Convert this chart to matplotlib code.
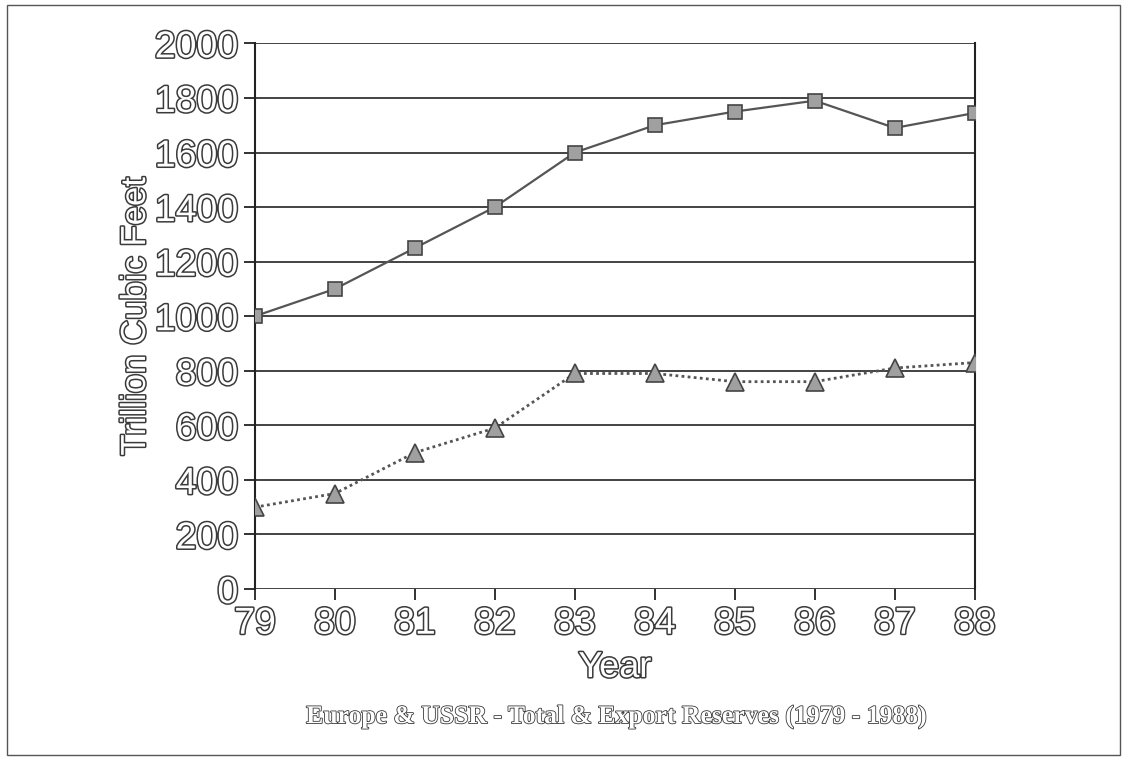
import matplotlib
matplotlib.use("Agg")
import matplotlib.pyplot as plt
import matplotlib.patheffects as pe
from matplotlib.patches import Rectangle

years = ["79", "80", "81", "82", "83", "84", "85", "86", "87", "88"]
total_reserves = [1000, 1100, 1250, 1400, 1600, 1700, 1750, 1790, 1690, 1745]
export_reserves = [300, 350, 500, 590, 790, 790, 760, 760, 810, 830]
y_ticks = [0, 200, 400, 600, 800, 1000, 1200, 1400, 1600, 1800, 2000]

# hollow, outlined lettering like the scanned original
outline = [pe.Stroke(linewidth=2.2, foreground="#3a3a3a"), pe.Normal()]
sans = "Liberation Sans"


def main():
    fig = plt.figure(figsize=(11.23, 7.61), dpi=100)
    ax = fig.add_axes([0.227, 0.226, 0.641, 0.717])

    x = list(range(len(years)))
    ax.plot(x, total_reserves, color="#555555", lw=1.6, marker="s", ms=10,
            mfc="#a0a0a0", mec="#444444", mew=1.2, zorder=3)
    ax.plot(x, export_reserves, color="#555555", lw=2.0, ls=(0, (1, 1.2)),
            marker="^", ms=13, mfc="#a0a0a0", mec="#444444", mew=1.2, zorder=3)

    ax.set_xlim(0, len(years) - 1)
    ax.set_ylim(0, 2000)
    ax.set_xticks(x)
    ax.set_xticklabels(years)
    ax.set_yticks(y_ticks)
    ax.grid(axis="y", color="#222222", lw=1.2)
    for s in ["top", "bottom"]:
        ax.spines[s].set_visible(False)
    ax.spines["left"].set_linewidth(1.5)
    ax.spines["right"].set_linewidth(1.5)
    ax.spines["left"].set_color("#222222")
    ax.spines["right"].set_color("#222222")
    ax.tick_params(axis="both", length=8, width=1.3, color="#222222", pad=4)

    for lab in ax.get_xticklabels() + ax.get_yticklabels():
        lab.set_fontfamily(sans)
        lab.set_fontsize(27)
        lab.set_color("white")
        lab.set_path_effects(outline)

    ax.set_ylabel("Trillion Cubic Feet", fontfamily=sans, fontsize=25,
                  color="white", path_effects=outline, labelpad=2)
    ax.set_xlabel("Year", fontfamily=sans, fontsize=26, color="white",
                  path_effects=outline, labelpad=6)

    fig.text(0.55, 0.058, "Europe & USSR - Total & Export Reserves (1979 - 1988)",
             ha="center", va="center", fontfamily="Liberation Serif",
             fontweight="bold", fontsize=18.5, color="white",
             path_effects=[pe.Stroke(linewidth=1.2, foreground="#3a3a3a"), pe.Normal()])

    fig.patches.append(Rectangle((0.006, 0.008), 0.991, 0.985, transform=fig.transFigure,
                                 fill=False, edgecolor="#555555", lw=1.0))

    fig.savefig("out.png", dpi=100)


if __name__ == "__main__":
    main()
